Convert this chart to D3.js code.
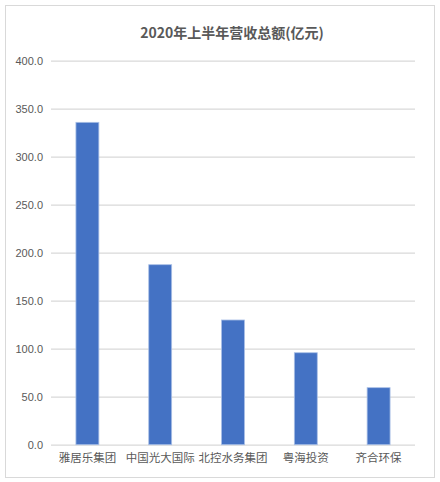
<!DOCTYPE html>
<html>
<head>
<meta charset="utf-8">
<script src="https://cdn.jsdelivr.net/npm/d3@7"></script>
<style>
  body { margin: 0; background: #fff; }
  text { font-family: "Noto Sans CJK SC", "Liberation Sans", sans-serif; }
</style>
</head>
<body>
<svg id="chart" width="440" height="482"></svg>
<script>
const categories = ['雅居乐集团', '中国光大国际', '北控水务集团', '粤海投资', '齐合环保'];
const revenue = [335.8, 187.5, 129.9, 95.8, 59.4];
const yTicks = [0, 50, 100, 150, 200, 250, 300, 350, 400];
const chartTitle = '2020年上半年营收总额(亿元)';

const svg = d3.select('#chart');
const margin = { left: 51, right: 415, top: 60.7, bottom: 444.7 };

// outer frame
svg.append('rect')
  .attr('x', 5.5).attr('y', 5.5)
  .attr('width', 429).attr('height', 472)
  .attr('fill', '#fff')
  .attr('stroke', '#d9d9d9')
  .attr('stroke-width', 1);

const x = d3.scaleBand()
  .domain(categories)
  .range([margin.left, margin.right])
  .paddingInner(0.685)
  .paddingOuter(0.3425);

const y = d3.scaleLinear()
  .domain([0, 400])
  .range([margin.bottom, margin.top]);

// gridlines + y labels
const yAxis = d3.axisLeft(y)
  .tickValues(yTicks)
  .tickSize(-(margin.right - margin.left))
  .tickPadding(8)
  .tickFormat(d3.format('.1f'));

const gy = svg.append('g')
  .attr('transform', `translate(${margin.left},0)`)
  .call(yAxis);
gy.select('.domain').remove();
gy.selectAll('.tick line')
  .attr('stroke', '#d9d9d9')
  .attr('stroke-width', 1.3);
gy.selectAll('.tick text')
  .attr('fill', '#595959')
  .style('font-size', '11px')
  .style('font-family', '"Liberation Sans", sans-serif');

// bars
svg.append('g')
  .selectAll('rect')
  .data(revenue)
  .join('rect')
  .attr('x', (d, i) => x(categories[i]))
  .attr('y', d => y(d))
  .attr('width', x.bandwidth())
  .attr('height', d => y(0) - y(d))
  .attr('fill', '#4472c4')
  .attr('stroke', '#a9bfe6')
  .attr('stroke-width', 0.8);

// x labels
const gx = svg.append('g')
  .attr('transform', `translate(0,${margin.bottom})`)
  .call(d3.axisBottom(x).tickSize(0).tickPadding(9));
gx.select('.domain').remove();
gx.selectAll('.tick text')
  .attr('fill', '#595959')
  .style('font-size', '11.5px');

// title
svg.append('text')
  .attr('x', 232)
  .attr('y', 38)
  .attr('text-anchor', 'middle')
  .attr('fill', '#595959')
  .style('font-size', '14px')
  .style('font-weight', 'bold')
  .text(chartTitle);
</script>
</body>
</html>
